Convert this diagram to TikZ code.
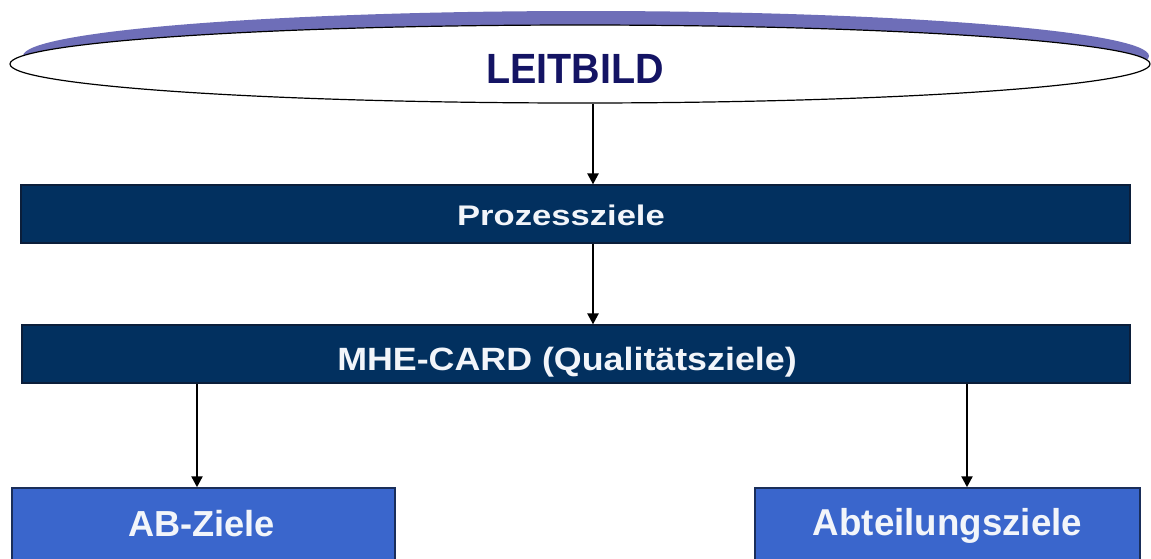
\documentclass[tikz,border=0pt]{standalone}
\usepackage{fontspec}
\setmainfont{Liberation Sans}
\usetikzlibrary{shapes.geometric,arrows.meta}
\definecolor{navybar}{HTML}{02305F}
\definecolor{navyedge}{HTML}{0B1E3A}
\definecolor{bluebox}{HTML}{3A66CC}
\definecolor{blueedge}{HTML}{1A2E5A}
\definecolor{rimpurple}{HTML}{6E6EB8}
\definecolor{leitblue}{HTML}{141464}
\definecolor{wtext}{HTML}{F2F5FA}
\tikzset{
  bar/.style={rectangle, fill=navybar, draw=navyedge, line width=1.2pt, inner sep=0pt},
  goalbox/.style={rectangle, fill=bluebox, draw=blueedge, line width=1.5pt, inner sep=0pt},
  wlabel/.style={anchor=base, inner sep=0pt, text=wtext, font=\bfseries},
  arr/.style={line width=2.3pt, -{Triangle[length=11pt,width=11pt]}},
}
\begin{document}
\begin{tikzpicture}[x=1pt,y=-1pt]
\useasboundingbox (0,0) rectangle (1151,558);
\clip (0,0) rectangle (1151,558);
\fill[white] (0,0) rectangle (1151,558);
% ellipse with purple rim
\fill[rimpurple] (586,56) ellipse [x radius=563pt, y radius=45pt];
\node[ellipse, draw=black, line width=1.2pt, fill=white, minimum width=1140pt, minimum height=78pt, inner sep=0pt] (ell) at (580,64) {};
\node[anchor=base, inner sep=0pt, text=leitblue, font=\bfseries\fontsize{39.5}{44}\selectfont] (leit) at (575,83) {\scalebox{1}[1.07]{LEITBILD}};
% bars
\node[bar, minimum width=1109pt, minimum height=58pt] (pz) at (575.5,214) {};
\node[wlabel, font=\bfseries\fontsize{34.6}{40}\selectfont] (pzt) at (561,225) {\scalebox{1}[0.82]{Prozessziele}};
\node[bar, minimum width=1108pt, minimum height=58pt] (mhe) at (576,354) {};
\node[wlabel, font=\bfseries\fontsize{35.8}{40}\selectfont] (mhet) at (567,370) {\scalebox{1}[0.9]{MHE-CARD (Qualitätsziele)}};
% bottom boxes
\node[goalbox, minimum width=383pt, minimum height=74pt] (ab) at (203.5,525) {};
\node[wlabel, font=\bfseries\fontsize{36.2}{40}\selectfont] (abt) at (201.5,536) {AB-Ziele};
\node[goalbox, minimum width=385pt, minimum height=74pt] (abz) at (947.5,525) {};
\node[wlabel, font=\bfseries\fontsize{36.7}{40}\selectfont] (abzt) at (947.5,535) {\scalebox{1}[1.02]{Abteilungsziele}};
% connectors
\draw[arr] ([xshift=13pt]ell.south) -- ([xshift=13pt]ell.south |- pz.north);
\draw[arr] ([xshift=17.5pt]pz.south) -- ([xshift=17.5pt]pz.south |- mhe.north);
\draw[arr] ([xshift=-6.5pt]ab.north |- mhe.south) -- ([xshift=-6.5pt]ab.north);
\draw[arr] ([xshift=19.5pt]abz.north |- mhe.south) -- ([xshift=19.5pt]abz.north);
\end{tikzpicture}
\end{document}
